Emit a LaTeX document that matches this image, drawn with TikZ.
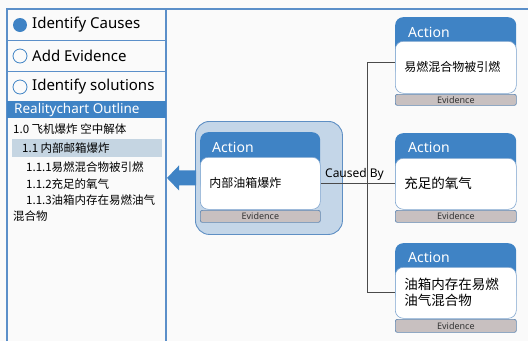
\documentclass[tikz,border=0pt]{standalone}
\usepackage{fontspec}
\setmainfont{Noto Sans}
\newfontfamily\cjk{Noto Sans CJK SC}
\usetikzlibrary{calc}
\definecolor{acblue}{HTML}{3F83C5}
\definecolor{framec}{HTML}{5B8FC9}
\definecolor{bgc}{HTML}{FAFAFA}
\definecolor{bodyb}{HTML}{7FA5CF}
\definecolor{evfill}{HTML}{C8C0C0}
\definecolor{evb}{HTML}{6288B2}
\definecolor{grpfill}{HTML}{C4D6E8}
\definecolor{grpb}{HTML}{5E8FC4}
\definecolor{hilite}{HTML}{C5D5E2}
\definecolor{connc}{HTML}{4A4A4A}
\begin{document}
\begin{tikzpicture}[x=1pt,y=-1pt,
  framel/.style={draw=framec,line width=1.1pt},
  sepl/.style={draw=framec,line width=0.9pt},
  menutext/.style={anchor=west,inner sep=0pt,font=\fontsize{15}{18}\selectfont,text=black},
  outl/.style={anchor=west,inner sep=0pt,font=\cjk\fontsize{11.5}{14}\selectfont,text=black},
  ahdr/.style={fill=acblue,rounded corners=8pt,inner sep=0pt,anchor=north west},
  acttext/.style={anchor=west,inner sep=0pt,text=white,font=\fontsize{14}{16}\selectfont},
  abody/.style={fill=white,draw=bodyb,line width=0.6pt,rounded corners=8pt,anchor=north west,inner xsep=9pt,inner ysep=0pt,align=left,text=black},
  evid/.style={fill=evfill,draw=evb,line width=0.7pt,rounded corners=2pt,anchor=north west,inner sep=0pt,font=\fontsize{9}{10}\selectfont,text=black!80},
  conn/.style={draw=connc,line width=0.8pt}]
\useasboundingbox (0,0) rectangle (528,341);
\fill[bgc] (0,0) rectangle (528,341);
% frame
\draw[framel] (7,341) -- (7,9) -- (528,9);
\draw[framel] (166,9) -- (166,341);
% left menu
\draw[sepl] (7,40) -- (166,40);
\draw[sepl] (7,71) -- (166,71);
\fill[acblue] (20,25) circle (7);
\draw[acblue,line width=0.8pt] (20,56) circle (7);
\draw[acblue,line width=0.8pt] (20,87) circle (7);
\node[menutext] (m1) at (32,25) {Identify Causes};
\node[menutext] (m2) at (32,56) {Add Evidence};
\node[menutext] (m3) at (32,87) {Identify solutions};
\node[fill=acblue,minimum width=159pt,minimum height=17pt,anchor=north west,inner sep=0pt] (ohdr) at (7,101) {};
\node[anchor=west,inner sep=0pt,text=white,font=\fontsize{13.5}{16}\selectfont] (ohdrt) at (14,110) {Realitychart Outline};
\fill[hilite] (12,139) rectangle (162,157);
\node[outl] (o1) at (13,129) {1.0 飞机爆炸 空中解体};
\node[outl] (o2) at (22,148) {1.1 内部邮箱爆炸};
\node[outl] (o3) at (26,167) {1.1.1易燃混合物被引燃};
\node[outl] (o4) at (26,184) {1.1.2充足的氧气};
\node[outl] (o5) at (26,200) {1.1.3油箱内存在易燃油气};
\node[outl] (o6) at (13,216) {混合物};
% group box with main action
\node[fill=grpfill,draw=grpb,line width=0.9pt,rounded corners=14pt,minimum width=147pt,minimum height=113pt,anchor=north west,inner sep=0pt] (grp) at (195,121) {};
\fill[acblue] ($(grp.west)+(1,-7.5)$) -- ++(-17,0) -- ++(0,-5) -- ++(-12,12.5) -- ++(12,12.5) -- ++(0,-5) -- ++(17,0) -- cycle;
\node[ahdr,minimum width=120pt,minimum height=60pt] (mh) at (200,132) {};
\node[acttext] (mt) at (212,147) {Action};
\node[abody,text width=102pt,minimum height=52pt,font=\cjk\fontsize{12}{15}\selectfont] (m) at (200,157) {内部油箱爆炸};
\node[evid,minimum width=120pt,minimum height=12pt] (me) at (200,210) {Evidence};
% right action 1
\node[ahdr,minimum width=121pt,minimum height=60pt] (n1h) at (395,17) {};
\node[acttext] (n1t) at (408,32) {Action};
\node[abody,text width=103pt,minimum height=52pt,font=\cjk\fontsize{12}{15}\selectfont] (n1) at (395,41) {易燃混合物被引燃};
\node[evid,minimum width=121pt,minimum height=11pt] (n1e) at (395,94) {Evidence};
% right action 2
\node[ahdr,minimum width=121pt,minimum height=60pt] (n2h) at (395,133) {};
\node[acttext] (n2t) at (408,147.5) {Action};
\node[abody,text width=103pt,minimum height=51pt,font=\cjk\fontsize{13.5}{16}\selectfont] (n2) at (395,158) {充足的氧气};
\node[evid,minimum width=121pt,minimum height=12pt] (n2e) at (395,210) {Evidence};
% right action 3
\node[ahdr,minimum width=121pt,minimum height=60pt] (n3h) at (395,243) {};
\node[acttext] (n3t) at (408,257) {Action};
\node[abody,text width=103pt,minimum height=51pt,font=\cjk\fontsize{13.5}{16}\selectfont] (n3) at (395,267) {油箱内存在易燃\\油气混合物};
\node[evid,minimum width=121pt,minimum height=13pt] (n3e) at (395,319) {Evidence};
% connectors
\coordinate (c1) at ($(n1.west)+(0,-5)$);
\coordinate (bus1) at ($(c1)+(-28,0)$);
\draw[conn] (c1) -- (bus1) -- (bus1 |- n3.west) -- (n3.west);
\draw[conn] (m.east) -- (m.east -| n2.west);
\node[anchor=south,inner sep=0pt,font=\fontsize{12}{14}\selectfont] (cb) at (354.5,181) {Caused By};
\end{tikzpicture}
\end{document}
